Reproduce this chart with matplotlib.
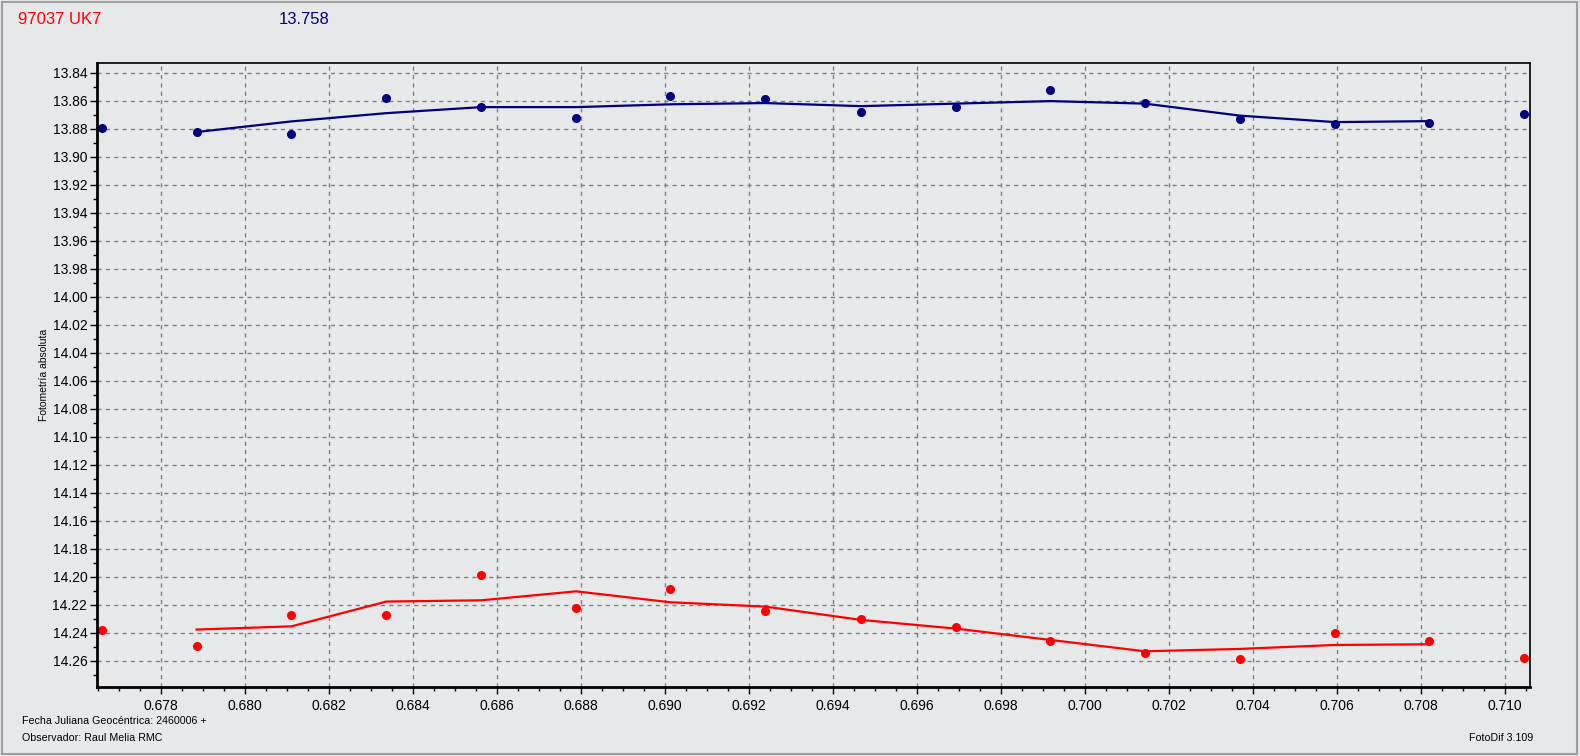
import matplotlib
matplotlib.use("Agg")
from matplotlib import pyplot as plt
from matplotlib.ticker import MultipleLocator, FormatStrFormatter

plt.rcParams['font.family'] = ['Liberation Sans', 'DejaVu Sans']

# fractional Julian date (+2460006)
jd = [0.67660, 0.67885, 0.68111, 0.68337, 0.68563, 0.68789, 0.69013, 0.69239,
      0.69467, 0.69693, 0.69918, 0.70143, 0.70370, 0.70596, 0.70819, 0.71045]

# comparison star (blue)
comp_mag = [13.8798, 13.8824, 13.8839, 13.8581, 13.8646, 13.8724, 13.8567, 13.8589,
            13.8681, 13.8646, 13.8526, 13.8614, 13.8734, 13.8764, 13.8760, 13.8696]
comp_smooth = [13.8824, 13.8748, 13.8689, 13.8646, 13.8646, 13.8626, 13.8617,
               13.8639, 13.8621, 13.8603, 13.8621, 13.8707, 13.8753, 13.8746]

# target 97037 UK7 (red)
obj_mag = [14.2376, 14.2491, 14.2269, 14.2274, 14.1989, 14.2219, 14.2089, 14.2246,
           14.2303, 14.2360, 14.2455, 14.2546, 14.2589, 14.2403, 14.2460, 14.2581]
obj_smooth = [14.2376, 14.2353, 14.2176, 14.2167, 14.2103, 14.2181, 14.2212,
              14.2307, 14.2369, 14.2450, 14.2531, 14.2514, 14.2486, 14.2481]

bg = '#e7e8ea'
fig = plt.figure(figsize=(15.8, 7.56), dpi=100, facecolor=bg)
ax = fig.add_axes([97/1580, 1 - 687/756, (1530 - 97)/1580, (687 - 63)/756])
ax.set_facecolor(bg)

# smoothed curves span the 2nd to the 15th point
ax.plot(jd[1:15], comp_smooth, color='#000080', lw=1.6)
ax.plot(jd, comp_mag, 'o', color='#000080', ms=5.5)
ax.plot(jd[1:15], obj_smooth, color='#ff0000', lw=1.6)
ax.plot(jd, obj_mag, 'o', color='#ff0000', ms=5.5)

ax.set_xlim(0.67648, 0.71060)
ax.set_ylim(14.2786, 13.8331)

ax.xaxis.set_major_locator(MultipleLocator(0.002))
ax.xaxis.set_minor_locator(MultipleLocator(0.0005))
ax.xaxis.set_major_formatter(FormatStrFormatter('%.3f'))
ax.yaxis.set_major_locator(MultipleLocator(0.02))
ax.yaxis.set_minor_locator(MultipleLocator(0.01))
ax.yaxis.set_major_formatter(FormatStrFormatter('%.2f'))

ax.grid(True, which='major', color='#808080', linestyle=(0, (3, 3)), lw=1)
ax.tick_params(which='major', length=5, width=1, labelsize=10, pad=2)
ax.tick_params(which='minor', length=3, width=1)
ax.tick_params(axis='x', which='major', pad=4)

for side in ['left', 'bottom']:
    ax.spines[side].set_linewidth(2)
for side in ['top', 'right']:
    ax.spines[side].set_linewidth(1.2)

ax.set_ylabel('Fotometría absoluta', fontsize=7.5)
ax.yaxis.set_label_coords((49 - 97) / 1433, 0.5)

fig.text(18/1580, 1 - 19/756, '97037 UK7', color='#ff0000', fontsize=12,
         va='center', ha='left')
fig.text(279/1580, 1 - 19/756, '13.758', color='#000080', fontsize=12,
         va='center', ha='left')
fig.text(22/1580, 1 - 721/756, 'Fecha Juliana Geocéntrica: 2460006 +',
         fontsize=7.7, va='center', ha='left')
fig.text(22/1580, 1 - 738/756, 'Observador: Raul Melia RMC',
         fontsize=7.7, va='center', ha='left')
fig.text(1533/1580, 1 - 738/756, 'FotoDif 3.109',
         fontsize=7.7, va='center', ha='right')

# window border
fig.patches.append(plt.Rectangle((0.001, 0.002), 0.997, 0.996, fill=False,
                                 edgecolor='#a0a0a0', lw=1.5,
                                 transform=fig.transFigure))

fig.savefig('out.png', dpi=100, facecolor=bg)
